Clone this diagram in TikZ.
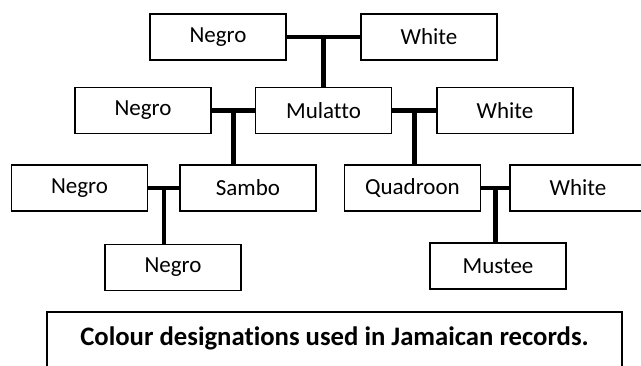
\documentclass[tikz,border=0pt]{standalone}
\usepackage{fontspec}
\setmainfont{Carlito}[Ligatures=NoCommon]
\usetikzlibrary{calc}
\begin{document}
\begin{tikzpicture}[x=1pt,y=-1pt,
  person/.style={draw=black,line width=1.8pt,fill=white,minimum width=136pt,
    minimum height=46pt,inner sep=0pt,font=\fontsize{23}{27}\selectfont},
  link/.style={line width=4.5pt,draw=black},
  caption/.style={draw=black,line width=2.2pt}]
\useasboundingbox (0,0) rectangle (641,366);
\clip (0,0) rectangle (641,366);

% generation 1
\node[person] (negroA) at (218,37) {Negro};
\node[person] (whiteA) at (429,37) {White};
% generation 2
\node[person] (negroB) at (143,110.5) {Negro};
\node[person] (mulatto) at (323.5,110.5) {Mulatto};
\node[person] (whiteB) at (505,110.5) {White};
% generation 3
\node[person] (negroC) at (79.5,188) {Negro};
\node[person] (sambo) at (248,188) {Sambo};
\node[person] (quadroon) at (412.5,188) {Quadroon};
\node[person] (whiteC) at (578,188) {White};
% generation 4
\node[person] (negroD) at (173,267.5) {Negro};
\node[person] (mustee) at (498,266) {Mustee};

% unions and their offspring
\draw[link] (negroA.east) -- (whiteA.west);
\coordinate (uA) at ($(negroA.east)!0.5!(whiteA.west)$);
\draw[link] (uA) -- (uA |- mulatto.north);

\draw[link] (negroB.east) -- (mulatto.west);
\coordinate (uB) at ($(negroB.east)!0.5!(mulatto.west)$);
\draw[link] (uB) -- (uB |- sambo.north);

\draw[link] (mulatto.east) -- (whiteB.west);
\coordinate (uC) at ($(mulatto.east)!0.5!(whiteB.west)$);
\draw[link] (uC) -- (uC |- quadroon.north);

\draw[link] (negroC.east) -- (sambo.west);
\coordinate (uD) at ($(negroC.east)!0.5!(sambo.west)$);
\draw[link] (uD) -- (uD |- negroD.north);

\draw[link] (quadroon.east) -- (whiteC.west);
\coordinate (uE) at ($(quadroon.east)!0.5!(whiteC.west)$);
\draw[link] (uE) -- (uE |- mustee.north);

% caption panel
\draw[caption] (47,400) -- (47,312) -- (622,312) -- (622,400);
\node[anchor=base,font=\bfseries\fontsize{26.7}{30}\selectfont] (cap) at (334.5,346)
  {Colour designations used in Jamaican records.};
\end{tikzpicture}
\end{document}
